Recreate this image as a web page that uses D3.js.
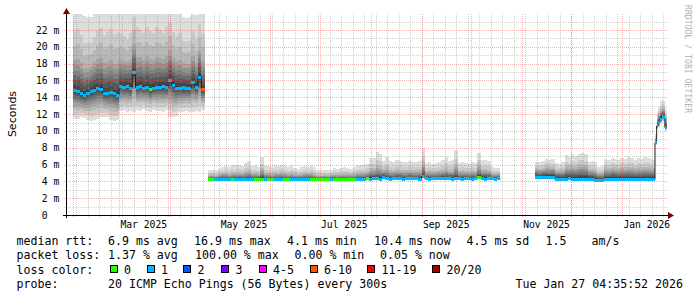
<!DOCTYPE html>
<html>
<head>
<meta charset="utf-8">
<script src="https://cdn.jsdelivr.net/npm/d3@7"></script>
<style>
  body { margin: 0; background: #fff; }
  text { font-family: "DejaVu Sans Mono", monospace; white-space: pre; }
</style>
</head>
<body>
<svg id="chart" width="697" height="297"></svg>
<script>
// ---- values (ms) ----
// segment start dates and sample step in days
const segStart = ['2025-02-01', '2025-04-24', '2025-11-09', '2026-01-20']
const segStep = [2, 2, 2, 1]

// segment A: Feb - Apr 2025
const medA = [14.78, 14.65, 14.42, 14.2, 14.47, 14.7, 14.86, 15.0, 14.95, 14.45,
  14.45, 14.55, 14.4, 14.25, 15.3, 15.2, 15.25, 15.1, 16.9, 15.15,
  15.3, 15.1, 15.2, 14.95, 15.1, 15.15, 15.2, 15.25, 15.2, 16.0,
  15.4, 15.1, 15.05, 15.15, 15.1, 15.05, 15.7, 15.2, 16.4, 14.9]
const hiA = [25.5, 26, 25, 23.7, 23.5, 23.6, 24.5, 25.5, 26, 25,
  25.5, 26, 25, 25.5, 25, 24.5, 23.9, 25, 27, 26,
  25.5, 25, 26, 25.5, 25, 26, 25.5, 25, 26, 26.5,
  25, 24.5, 25, 23.6, 23.4, 23.6, 25, 23.8, 26, 25]
const loA = [11.5, 11.4, 11.6, 11.5, 11.3, 11.2, 11.3, 11.4, 11.6, 11.7,
  11.6, 11.3, 11.2, 11.3, 12.4, 12.5, 12.3, 12.4, 12.2, 12.5,
  12.4, 12.6, 12.4, 12.3, 12.5, 12.4, 12.4, 12.3, 12.5, 11.7,
  11.6, 11.8, 12.3, 12.2, 12.4, 12.3, 12.2, 12.4, 12.3, 12.5]
const lossA = [1, 1, 1, 1, 1, 1, 1, 1, 1, 1, 1, 1, 1, 1, 1, 1, 1, 1, 1, 1,
  1, 1, 1, 0, 1, 1, 1, 1, 1, 1, 1, 1, 1, 1, 1, 1, 1, 1, 1, 8]

// segment B: Apr - Oct 2025
const medB = [4.22, 4.2, 4.18, 4.22, 4.25, 4.2, 4.18, 4.22, 4.2, 4.24,
  4.2, 4.18, 4.22, 4.2, 4.2, 4.22, 4.26, 4.2, 4.18, 4.2,
  4.22, 4.2, 4.24, 4.2, 4.18, 4.2, 4.22, 4.25, 4.2, 4.2,
  4.22, 4.2, 4.18, 4.2, 4.2, 4.22, 4.2, 4.24, 4.2, 4.18,
  4.2, 4.2, 4.22, 4.2, 4.2, 4.24, 4.22, 4.26, 4.3, 4.28,
  4.3, 4.32, 4.28, 4.5, 4.3, 4.28, 4.3, 4.32, 4.3, 4.28,
  4.3, 4.3, 4.32, 4.3, 4.28, 4.6, 4.3, 4.28, 4.3, 4.3,
  4.32, 4.3, 4.34, 4.3, 4.28, 4.36, 4.3, 4.28, 4.3, 4.3,
  4.28, 4.3, 4.5, 4.3, 4.28, 4.3, 4.3, 4.28, 4.3]
const hiB = [5.3, 5.4, 5.35, 5.5, 5.7, 5.8, 5.75, 6.0, 5.9, 5.95,
  5.8, 6.2, 6.4, 5.8, 5.9, 5.7, 6.9, 5.8, 5.8, 5.7,
  5.9, 5.8, 6.0, 5.8, 5.7, 5.9, 5.6, 5.5, 5.7, 5.8,
  5.75, 5.9, 5.7, 5.35, 5.3, 5.4, 5.35, 5.4, 5.6, 5.5,
  5.6, 5.7, 5.6, 5.5, 5.7, 5.9, 6.0, 5.9, 6.1, 6.8,
  6.8, 7.5, 7.3, 6.4, 6.9, 6.4, 6.3, 6.5, 6.4, 6.35,
  6.3, 6.4, 6.3, 6.35, 6.4, 8.0, 6.2, 6.3, 6.1, 6.2,
  6.3, 6.5, 6.9, 6.4, 6.5, 7.7, 6.2, 6.3, 6.2, 6.1,
  6.3, 6.2, 7.4, 6.5, 6.6, 6.4, 5.7, 5.6, 5.6]
const loB = [4.12, 4.1, 4.1, 4.12, 4.14, 4.1, 4.1, 4.12, 4.1, 4.13,
  4.1, 4.1, 4.12, 4.1, 4.1, 4.12, 4.15, 4.1, 4.1, 4.1,
  4.12, 4.1, 4.13, 4.1, 4.1, 4.1, 4.12, 4.14, 4.1, 4.1,
  4.12, 4.1, 4.1, 4.1, 4.1, 4.12, 4.1, 4.13, 4.1, 4.1,
  4.1, 4.1, 4.12, 4.1, 4.1, 4.13, 4.12, 4.15, 4.18, 4.17,
  4.18, 4.2, 4.17, 4.3, 4.18, 4.17, 4.18, 4.2, 4.18, 4.17,
  4.18, 4.18, 4.2, 4.18, 4.17, 4.35, 4.18, 4.17, 4.18, 4.18,
  4.2, 4.18, 4.22, 4.18, 4.17, 4.22, 4.18, 4.17, 4.18, 4.18,
  4.17, 4.18, 4.3, 4.18, 4.17, 4.18, 4.18, 4.17, 4.18]
const lossB = [0, 0, 1, 1, 1, 1, 1, 0, 1, 1,
  1, 1, 1, 1, 0, 0, 0, 1, 0, 0,
  1, 1, 1, 0, 0, 1, 1, 1, 1, 1,
  1, 0, 0, 0, 0, 0, 0, 1, 0, 0,
  0, 0, 0, 0, 0, 1, 1, 1, 0, 1,
  1, 1, 1, 1, 1, 1, 1, 1, 1, 1,
  1, 1, 1, 1, 1, 1, 1, 1, 1, 1,
  1, 1, 1, 1, 1, 1, 1, 1, 1, 1,
  1, 1, 0, 1, 1, 1, 1, 1, 1]

// segment C: Nov 2025 - Jan 2026
const medC = [4.48, 4.46, 4.48, 4.5, 4.47, 4.48,
  4.24, 4.26, 4.22, 4.25, 4.3, 4.24, 4.22, 4.26, 4.24, 4.28, 4.24, 4.22,
  4.1, 4.08, 4.12,
  4.22, 4.2, 4.24, 4.22, 4.2, 4.22, 4.24, 4.2, 4.22, 4.2, 4.22, 4.24, 4.2, 4.22, 4.2]
const hiC = [6.35, 6.3, 6.4, 6.7, 6.6, 6.7, 6.2, 6.1, 6.3, 7.1,
  6.9, 7.2, 7.0, 7.3, 7.4, 7.2, 6.35, 6.4, 6.3, 5.75,
  5.8, 6.7, 6.6, 6.8, 6.7, 6.6, 6.8, 6.7, 6.9, 6.8,
  6.6, 6.8, 6.7, 6.9, 6.8, 6.7]
const loC = [4.36, 4.34, 4.36, 4.38, 4.35, 4.36,
  4.12, 4.14, 4.1, 4.13, 4.18, 4.12, 4.1, 4.14, 4.12, 4.16, 4.12, 4.1,
  4.0, 3.98, 4.02,
  4.1, 4.08, 4.12, 4.1, 4.08, 4.1, 4.12, 4.08, 4.1, 4.08, 4.1, 4.12, 4.08, 4.1, 4.08]
const lossC = [1, 1, 1, 1, 1, 1, 1, 1, 1, 1, 1, 1, 1, 1, 1, 1, 1, 1,
  1, 1, 1, 1, 1, 1, 1, 1, 1, 1, 1, 1, 1, 1, 1, 1, 1, 1]

// segment D: last week, daily
const medD = [4.2, 8.6, 10.6, 11.0, 11.4, 11.7, 11.6, 10.4]
const hiD = [6.6, 9.6, 12.3, 12.9, 13.5, 13.8, 13.6, 12.7]
const loD = [4.1, 8.3, 10.2, 10.5, 10.9, 11.1, 11.2, 10.0]
const lossD = [1, 1, 1, 1, 1, 1, 1, 1]

// how the 20 sorted pings spread around the median (outer pair first)
const upProfA = [1.0, 0.66, 0.5, 0.34, 0.28, 0.22, 0.17, 0.12, 0.06, 0.02]
const upProfB = [1.0, 0.7, 0.52, 0.4, 0.32, 0.25, 0.19, 0.13, 0.08, 0.04]
const upProfC = [1.0, 0.74, 0.58, 0.47, 0.39, 0.32, 0.25, 0.18, 0.11, 0.05]
const loProf = [1.0, 0.83, 0.66, 0.54, 0.42, 0.33, 0.25, 0.16, 0.08, 0.03]

const yTicks = [0, 2, 4, 6, 8, 10, 12, 14, 16, 18, 20, 22]

const lossLevels = [0, 1, 2, 3, 5, 10, 19, 20]
const lossLabels = ['0', '1', '2', '3', '4-5', '6-10', '11-19', '20/20']
const lossColors = ['#26ff00', '#00b8ff', '#0059ff', '#7e00ff', '#ff00ff', '#ff5500', '#ff0000', '#a10000']

// ---- setup ----
const svg = d3.select('#chart')
const X0 = 66.5, X1 = 666.5, Y0 = 215, YTOP = 14

const x = d3.scaleUtc()
  .domain([new Date(Date.UTC(2025, 0, 28)), new Date(Date.UTC(2026, 0, 28))])
  .range([X0, X1])
const y = d3.scaleLinear().domain([0, 22]).range([Y0, 30])

function lossColor (loss) {
  let i = lossLevels.findIndex(l => loss <= l)
  return lossColors[i < 0 ? lossColors.length - 1 : i]
}

function buildSegment (k, med, hi, lo, loss, up) {
  let t0 = new Date(segStart[k] + 'T00:00:00Z')
  let pts = med.map((m, i) => ({
    t: d3.utcDay.offset(t0, i * segStep[k]), med: m, hi: hi[i], lo: lo[i], loss: loss[i]
  }))
  let end = d3.utcDay.offset(t0, med.length * segStep[k])
  return { pts, end, up }
}

const segments = [
  buildSegment(0, medA, hiA, loA, lossA, upProfA),
  buildSegment(1, medB, hiB, loB, lossB, upProfB),
  buildSegment(2, medC, hiC, loC, lossC, upProfC),
  buildSegment(3, medD, hiD, loD, lossD, upProfC)
]

// smoke grays, outer band lightest
const smokeGray = d3.range(10).map(k => {
  let v = Math.floor(190 / 10 * (9 - k)) + 50
  return d3.rgb(v, v, v).formatHex()
})

svg.append('clipPath').attr('id', 'plotclip')
  .append('rect')
  .attr('x', X0).attr('y', YTOP)
  .attr('width', X1 - X0).attr('height', Y0 - YTOP)

const plot = svg.append('g').attr('clip-path', 'url(#plotclip)')

// smoke
segments.forEach(seg => {
  let last = seg.pts[seg.pts.length - 1]
  let withEnd = seg.pts.concat([Object.assign({}, last, { t: seg.end })])
  smokeGray.forEach((g, k) => {
    let area = d3.area()
      .curve(d3.curveStepAfter)
      .x(d => x(d.t))
      .y0(d => y(d.med - (d.med - d.lo) * loProf[k]))
      .y1(d => y(d.med + (d.hi - d.med) * seg.up[k]))
    plot.append('path')
      .datum(withEnd)
      .attr('d', area)
      .attr('fill', g)
      .attr('shape-rendering', 'crispEdges')
  })
})

// median line + loss coloured blocks
segments.forEach(seg => {
  let last = seg.pts[seg.pts.length - 1]
  let withEnd = seg.pts.concat([Object.assign({}, last, { t: seg.end })])
  let line = d3.line().curve(d3.curveStepAfter).x(d => x(d.t)).y(d => y(d.med))
  plot.append('path')
    .datum(withEnd)
    .attr('d', line)
    .attr('fill', 'none')
    .attr('stroke', '#202020')
    .attr('stroke-width', 1)

  plot.selectAll(null)
    .data(seg.pts)
    .enter()
    .append('rect')
    .attr('x', d => x(d.t))
    .attr('width', (d, i) => x(i + 1 < seg.pts.length ? seg.pts[i + 1].t : seg.end) - x(d.t))
    .attr('y', d => y(d.med) - 1.5)
    .attr('height', 3)
    .attr('fill', d => lossColor(d.loss))
    .attr('shape-rendering', 'crispEdges')
})

// grid (drawn over the data like rrdtool does)
const grid = svg.append('g').attr('shape-rendering', 'crispEdges').attr('stroke-dasharray', '1,1')
const minorCol = 'rgba(140,140,140,0.4)'
const majorCol = 'rgba(210,60,60,0.38)'

d3.range(1, 24).filter(v => v % 2 === 1).forEach(v => {
  let py = Math.round(y(v)) + 0.5
  if (py < YTOP) return
  grid.append('line').attr('x1', X0 - 3).attr('x2', X1).attr('y1', py).attr('y2', py).attr('stroke', minorCol)
})
d3.utcMonday.range(x.domain()[0], x.domain()[1]).forEach(t => {
  let px = Math.round(x(t)) + 0.5
  grid.append('line').attr('x1', px).attr('x2', px).attr('y1', YTOP).attr('y2', Y0 + 2).attr('stroke', minorCol)
})
yTicks.filter(v => v > 0).forEach(v => {
  let py = Math.round(y(v)) + 0.5
  grid.append('line').attr('x1', X0 - 3).attr('x2', X1).attr('y1', py).attr('y2', py).attr('stroke', majorCol)
})
d3.utcMonth.range(x.domain()[0], x.domain()[1]).forEach(t => {
  let px = Math.round(x(t)) + 0.5
  grid.append('line').attr('x1', px).attr('x2', px).attr('y1', YTOP).attr('y2', Y0 + 2).attr('stroke', majorCol)
})

// axes
const axes = svg.append('g').attr('shape-rendering', 'crispEdges')
axes.append('line').attr('x1', 63).attr('x2', 669).attr('y1', Y0 + 0.5).attr('y2', Y0 + 0.5).attr('stroke', '#000')
axes.append('line').attr('x1', X0).attr('x2', X0).attr('y1', Y0 + 3).attr('y2', 13).attr('stroke', '#000')
svg.append('path').attr('d', 'M668,212 L674,215.5 L668,219 Z').attr('fill', '#7f0000')
svg.append('path').attr('d', 'M63,14 L66.5,8 L70,14 Z').attr('fill', '#7f0000')

// y labels
svg.selectAll('.ylab')
  .data(yTicks)
  .enter()
  .append('text')
  .attr('class', 'ylab')
  .attr('x', 36)
  .attr('y', d => y(d) + 3.5)
  .attr('font-size', '9.7px')
  .text(d => d === 0 ? ' 0' : String(d).padStart(2, ' ') + ' m')

// x labels: every 2 months, centred half a month after the month start
d3.utcMonth.every(2).range(x.domain()[0], x.domain()[1]).forEach(t => {
  let mid = d3.utcDay.offset(t, 15)
  if (mid > x.domain()[1]) return
  svg.append('text')
    .attr('x', x(mid))
    .attr('y', 228)
    .attr('text-anchor', 'middle')
    .attr('font-size', '9.7px')
    .text(d3.utcFormat('%b %Y')(t))
})

// y title
svg.append('text')
  .attr('transform', 'translate(16,114) rotate(-90)')
  .attr('text-anchor', 'middle')
  .style('font-family', '"DejaVu Sans", sans-serif')
  .attr('font-size', '11px')
  .text('Seconds')

// watermark
svg.append('text')
  .attr('transform', 'translate(685,5) rotate(90)')
  .attr('font-size', '8px')
  .attr('fill', '#b0b0b0')
  .attr('textLength', 108)
  .text('RRDTOOL / TOBI OETIKER')

// legend
const legend = svg.append('g').attr('font-size', '11.6px')
const line1 = [[16.5, 'median rtt:'], [108, '6.9 ms avg'], [194, '16.9 ms max'], [287, '4.1 ms min'],
  [374, '10.4 ms now'], [466.5, '4.5 ms sd'], [545.5, '1.5'], [591.5, 'am/s']]
const line2 = [[16.5, 'packet loss:'], [108, '1.37 % avg'], [195, '100.00 % max'], [294.5, '0.00 % min'], [380, '0.05 % now']]
const line4 = [[16.5, 'probe:'], [108, '20 ICMP Echo Pings (56 Bytes) every 300s']]
line1.forEach(d => legend.append('text').attr('x', d[0]).attr('y', 245).text(d[1]))
line2.forEach(d => legend.append('text').attr('x', d[0]).attr('y', 259).text(d[1]))
line4.forEach(d => legend.append('text').attr('x', d[0]).attr('y', 288).text(d[1]))
legend.append('text').attr('x', 683).attr('y', 288).attr('text-anchor', 'end').text('Tue Jan 27 04:35:52 2026')

legend.append('text').attr('x', 16.5).attr('y', 273.5).text('loss color:')
const boxX = [109.5, 146.5, 183, 221, 258.5, 309.5, 367, 432]
lossLabels.forEach((lab, i) => {
  legend.append('rect')
    .attr('x', boxX[i] + 0.5).attr('y', 265.5)
    .attr('width', 7).attr('height', 7)
    .attr('fill', lossColors[i])
    .attr('stroke', '#000')
    .attr('shape-rendering', 'crispEdges')
  legend.append('text').attr('x', boxX[i] + 14.5).attr('y', 273.5).text(lab)
})
</script>
</body>
</html>
